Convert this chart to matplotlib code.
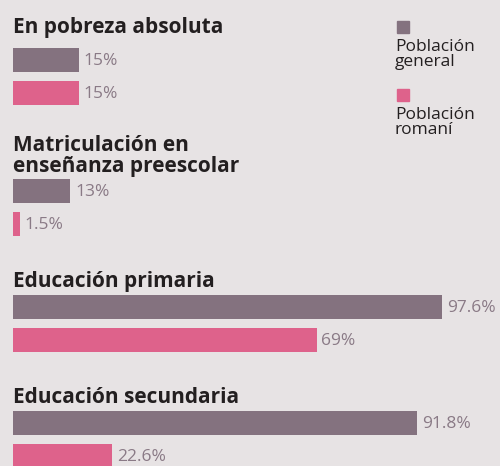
import matplotlib
matplotlib.use("Agg")
import matplotlib.pyplot as plt
from matplotlib.patches import Rectangle

categories = ["En pobreza absoluta", "Matriculación en\nenseñanza preescolar",
              "Educación primaria", "Educación secundaria"]
general = [15, 13, 97.6, 91.8]
romani = [15, 1.5, 69, 22.6]
general_labels = ["15%", "13%", "97.6%", "91.8%"]
romani_labels = ["15%", "1.5%", "69%", "22.6%"]
series_names = ["Población\ngeneral", "Población\nromaní"]

BG = "#e7e3e4"
C_GEN = "#84727f"
C_ROM = "#de628b"
C_VAL = "#8a7a86"
C_TXT = "#231f20"

W, H = 500, 466
fig = plt.figure(figsize=(W / 100, H / 100), dpi=100, facecolor=BG)
ax = fig.add_axes([0, 0, 1, 1])
ax.set_facecolor(BG)
x0px, pxper = 13, 4.4
ax.set_xlim(-x0px / pxper, (W - x0px) / pxper)
ax.set_ylim(H, 0)
ax.axis("off")

# layout (pixel rows)
title_base = [33, 172, 287, 403]
gen_center = [60, 191, 307, 423]
gap = 33
bh = 24

font = "Open Sans"
for i, cat in enumerate(categories):
    ax.text(0, title_base[i], cat, fontsize=15, fontweight="bold", family=font,
            color=C_TXT, va="baseline", ha="left", linespacing=1.0)
    yg = gen_center[i]
    yr = yg + gap
    ax.barh(yg, general[i], height=bh, color=C_GEN, align="center")
    ax.barh(yr, romani[i], height=bh, color=C_ROM, align="center")
    ax.text(general[i] + 1.1, yg + 1, general_labels[i], fontsize=12.5, family=font,
            fontweight="normal", color=C_VAL, va="center", ha="left")
    ax.text(romani[i] + 1.1, yr + 1, romani_labels[i], fontsize=12.5, family=font,
            fontweight="normal", color=C_VAL, va="center", ha="left")

# legend
leg_sq_top = [21, 89]
for j, (name, col) in enumerate(zip(series_names, [C_GEN, C_ROM])):
    fig.patches.append(Rectangle((397 / W, 1 - (leg_sq_top[j] + 12) / H), 12 / W, 12 / H,
                                 transform=fig.transFigure, color=col, figure=fig))
    fig.text(395 / W, 1 - (leg_sq_top[j] + 18) / H, name, fontsize=12.5, family=font,
             color=C_TXT, va="top", ha="left", linespacing=0.95)

fig.savefig("out.png", dpi=100, facecolor=BG)
